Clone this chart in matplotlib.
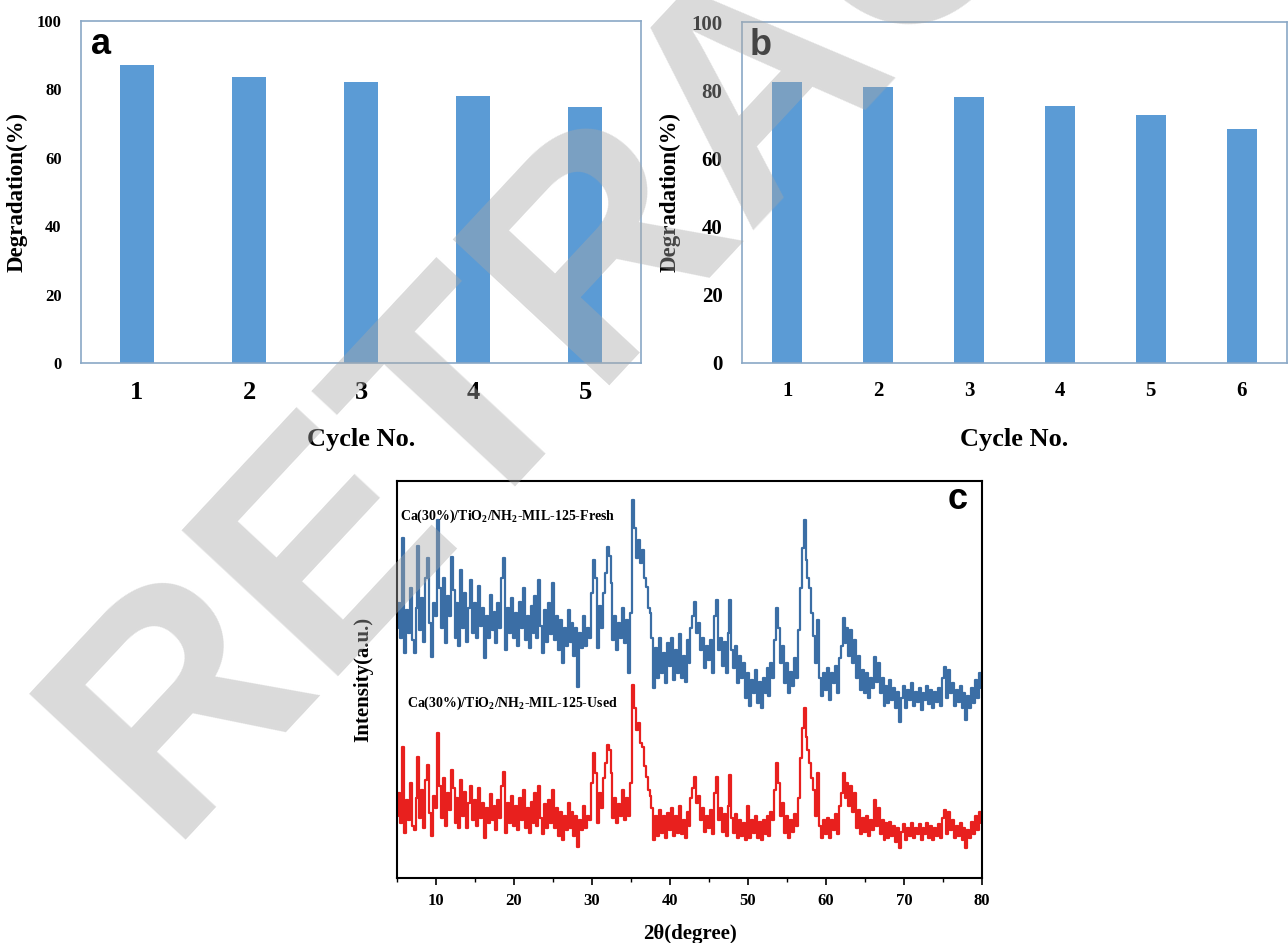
"""
Recovery / reuse figure: degradation over repeated cycles (a, b)
and XRD patterns of the fresh and used catalyst (c).
"""

import numpy as np
import matplotlib
matplotlib.use("Agg")
import matplotlib.pyplot as plt
from matplotlib.ticker import MultipleLocator, NullLocator

plt.rcParams["font.family"] = "Liberation Serif"
plt.rcParams["font.weight"] = "bold"

# ── Data ──────────────────────────────────────────────────────────────────────

CYCLES_A = [1, 2, 3, 4, 5]
DEGRADATION_A = [87.0, 83.7, 82.1, 78.2, 74.9]

CYCLES_B = [1, 2, 3, 4, 5, 6]
DEGRADATION_B = [82.5, 81.0, 78.0, 75.4, 72.6, 68.7]

# XRD scan grid (2 theta, 0.25 deg step) and intensities in a.u.
TWO_THETA = np.arange(5.0, 80.001, 0.25)

FRESH = [
    250, 275, 240, 340, 225, 268, 245, 290, 238, 225, 270, 332, 248, 280, 236, 300, 320, 255, 221, 275,
    262, 358, 290, 250, 300, 235, 282, 262, 321, 288, 240, 275, 232, 308, 250, 285, 236, 270, 298, 245,
    275, 240, 292, 252, 270, 220, 262, 240, 283, 248, 266, 235, 275, 250, 300, 320, 228, 270, 245, 280,
    240, 265, 232, 276, 250, 290, 238, 262, 230, 272, 245, 282, 240, 298, 252, 225, 268, 236, 275, 244,
    295, 238, 262, 228, 258, 215, 250, 232, 268, 236, 255, 222, 250, 191, 245, 230, 262, 232, 250, 240,
    285, 318, 300, 230, 272, 250, 285, 305, 331, 322, 295, 238, 262, 228, 255, 240, 270, 235, 258, 205,
    265, 378, 350, 320, 338, 315, 328, 300, 291, 270, 265, 240, 190, 230, 200, 240, 205, 225, 195, 235,
    212, 240, 198, 228, 205, 244, 200, 222, 196, 238, 215, 250, 262, 276, 245, 255, 228, 240, 210, 232,
    218, 238, 205, 262, 278, 228, 240, 212, 236, 205, 245, 278, 228, 210, 232, 195, 222, 200, 215, 180,
    205, 172, 198, 185, 208, 175, 196, 170, 200, 185, 210, 182, 215, 200, 238, 270, 250, 215, 232, 195,
    215, 185, 206, 192, 220, 200, 248, 290, 330, 358, 318, 300, 290, 265, 242, 215, 258, 200, 182, 205,
    188, 210, 178, 205, 195, 212, 185, 220, 232, 260, 235, 250, 222, 248, 215, 238, 200, 222, 188, 208,
    185, 205, 180, 200, 190, 221, 196, 215, 185, 200, 172, 192, 175, 198, 178, 190, 170, 186, 156, 180,
    192, 170, 188, 178, 195, 172, 186, 176, 190, 168, 185, 178, 192, 174, 188, 170, 186, 176, 190, 172,
    200, 211, 180, 208, 185, 195, 172, 188, 176, 192, 170, 185, 158, 182, 170, 190, 175, 198, 180, 205,
    190,
]

USED = [
    62, 85, 55, 131, 45, 78, 58, 95, 52, 48, 80, 121, 60, 88, 50, 98, 113, 65, 42, 82,
    70, 145, 92, 60, 100, 52, 85, 68, 108, 90, 55, 80, 50, 98, 62, 86, 50, 75, 92, 58,
    78, 52, 90, 60, 75, 40, 70, 55, 84, 58, 72, 48, 78, 60, 92, 106, 45, 75, 55, 82,
    52, 72, 48, 80, 58, 88, 50, 70, 45, 76, 55, 85, 52, 92, 60, 44, 74, 50, 78, 55,
    88, 50, 70, 42, 66, 38, 62, 48, 75, 50, 66, 42, 62, 31, 58, 48, 72, 50, 62, 58,
    95, 125, 105, 55, 85, 70, 100, 115, 133, 128, 105, 60, 80, 55, 74, 62, 88, 58, 80, 62,
    95, 193, 170, 148, 155, 135, 131, 112, 101, 88, 82, 70, 38, 62, 42, 68, 45, 62, 40, 65,
    48, 70, 42, 62, 45, 72, 44, 58, 40, 66, 52, 80, 90, 101, 75, 82, 58, 70, 46, 62,
    50, 68, 44, 85, 101, 58, 70, 46, 64, 42, 72, 103, 60, 45, 64, 40, 58, 42, 55, 38,
    72, 40, 58, 45, 62, 40, 56, 38, 58, 44, 62, 42, 66, 58, 88, 115, 95, 62, 75, 45,
    62, 40, 58, 46, 64, 52, 80, 120, 150, 170, 141, 128, 115, 100, 88, 62, 105, 52, 40, 58,
    44, 60, 40, 58, 48, 64, 44, 72, 85, 105, 80, 95, 72, 92, 66, 85, 50, 68, 44, 60,
    46, 62, 42, 58, 48, 78, 52, 70, 44, 58, 38, 55, 40, 56, 42, 52, 36, 50, 30, 46,
    54, 38, 50, 42, 55, 40, 50, 44, 54, 38, 50, 44, 55, 40, 52, 38, 50, 42, 54, 40,
    60, 68, 44, 66, 48, 58, 40, 52, 42, 55, 38, 50, 30, 48, 40, 56, 44, 62, 48, 66,
    55,
]

FRESH_LABEL = r"Ca(30%)/TiO$_\mathregular{2}$/NH$_\mathregular{2}$-MIL-125-Fresh"
USED_LABEL = r"Ca(30%)/TiO$_\mathregular{2}$/NH$_\mathregular{2}$-MIL-125-Used"

# ── Style ─────────────────────────────────────────────────────────────────────

BAR_COLOR = "#5b9bd5"
FRAME_COLOR = "#8aa8c6"
BLUE_LINE = "#3b6ea5"
RED_LINE = "#e8201e"

W, H = 1288, 943
fig = plt.figure(figsize=(W / 100, H / 100), dpi=100)


def px_rect(left, top, right, bottom):
    return [left / W, 1 - bottom / H, (right - left) / W, (bottom - top) / H]


def bar_panel(ax, cycles, values, width, xfs, yfs, lfs, letter, ylab_x):
    ax.bar(cycles, values, width=width, color=BAR_COLOR, zorder=2)
    ax.set_xlim(0.5, len(cycles) + 0.5)
    ax.set_ylim(0, 100)
    ax.set_xticks(cycles)
    ax.set_yticks(range(0, 101, 20))
    ax.tick_params(axis="x", length=0, pad=13, labelsize=xfs)
    ax.tick_params(axis="y", length=0, pad=14, labelsize=yfs)
    for s in ax.spines.values():
        s.set_color(FRAME_COLOR)
        s.set_linewidth(1.2)
    ax.set_xlabel("Cycle No.", fontsize=19, fontweight="bold")
    ax.set_ylabel("Degradation(%)", fontsize=lfs, fontweight="bold")
    ax.xaxis.set_label_coords(0.5, -0.19)
    ax.yaxis.set_label_coords(ylab_x, 0.5)
    ax.text(0.035, 0.93, letter, transform=ax.transAxes, fontsize=26,
            family="Liberation Sans", fontweight="bold", ha="center", va="center")


# ── Panel a ───────────────────────────────────────────────────────────────────

ax_a = fig.add_axes(px_rect(81, 21, 641, 363))
bar_panel(ax_a, CYCLES_A, DEGRADATION_A, 0.31, 19, 12, 16.5, "a", -0.095)

# ── Panel b ───────────────────────────────────────────────────────────────────

ax_b = fig.add_axes(px_rect(742, 22, 1287, 363))
bar_panel(ax_b, CYCLES_B, DEGRADATION_B, 0.33, 15, 15, 16.5, "b", -0.112)

# ── Panel c: XRD ──────────────────────────────────────────────────────────────

ax_c = fig.add_axes(px_rect(397, 481, 982, 878))
ax_c.plot(TWO_THETA, FRESH, color=BLUE_LINE, lw=1.6, drawstyle="steps-mid")
ax_c.plot(TWO_THETA, USED, color=RED_LINE, lw=1.6, drawstyle="steps-mid")
ax_c.set_xlim(5, 80)
ax_c.set_ylim(0, 397)
ax_c.xaxis.set_major_locator(MultipleLocator(10))
ax_c.xaxis.set_minor_locator(MultipleLocator(5))
ax_c.yaxis.set_major_locator(NullLocator())
ax_c.tick_params(axis="x", which="major", direction="out", length=5, width=1.2,
                 pad=6, labelsize=12)
ax_c.tick_params(axis="x", which="minor", direction="out", length=3, width=1.0)
for s in ax_c.spines.values():
    s.set_linewidth(1.5)
ax_c.set_xlabel("2θ(degree)", fontsize=15, fontweight="bold")
ax_c.set_ylabel("Intensity(a.u.)", fontsize=15, fontweight="bold")
ax_c.xaxis.set_label_coords(0.5, -0.115)
ax_c.yaxis.set_label_coords(-0.04, 0.5)

ax_c.text(5.4, 362, FRESH_LABEL, fontsize=10, fontweight="bold", va="center")
ax_c.text(6.3, 175, USED_LABEL, fontsize=10, fontweight="bold", va="center")
ax_c.text(76.9, 378, "c", fontsize=26, family="Liberation Sans",
          fontweight="bold", ha="center", va="center")

# ── Watermark ─────────────────────────────────────────────────────────────────

fig.text(165 / W, 1 - 840 / H, "RETRACTED", fontsize=224, rotation=47,
         rotation_mode="anchor", ha="left", va="baseline",
         family="Liberation Sans", fontweight="bold",
         color="#a8a8a8", alpha=0.42, zorder=10)

fig.savefig("out.png", dpi=100)
